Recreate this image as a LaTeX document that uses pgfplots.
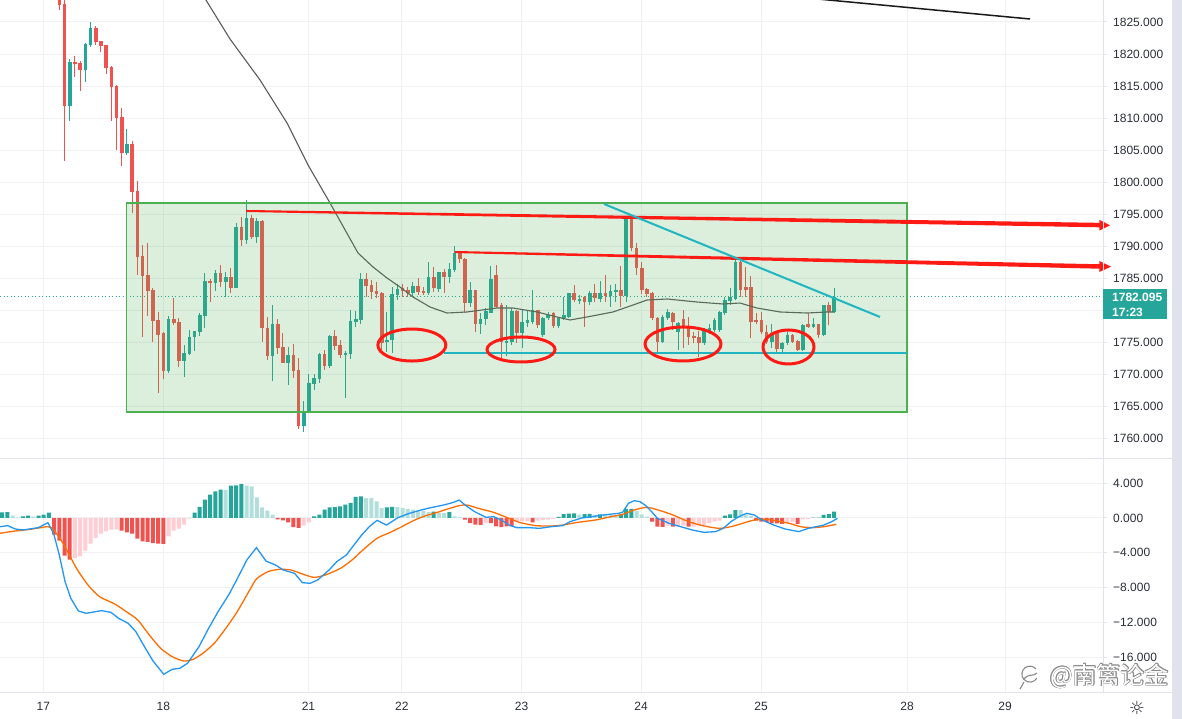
\documentclass[border=0pt]{standalone}
\usepackage{pgfplots}
\pgfplotsset{compat=1.18}
\usepackage{pgfplotstable}
\usepackage{fontspec}
\setmainfont{Liberation Sans}
\newfontfamily\cjk{Noto Sans CJK SC}
\newfontfamily\djv{DejaVu Sans}
\definecolor{upc}{HTML}{26A69A}
\definecolor{dnc}{HTML}{EF5350}
\definecolor{hlg}{HTML}{B2DFDB}
\definecolor{hpk}{HTML}{FFCDD2}
\definecolor{macdc}{HTML}{2196F3}
\definecolor{sigc}{HTML}{FF6D00}
\definecolor{gridc}{HTML}{EFF1F5}
\definecolor{linec}{HTML}{E0E3EB}
\definecolor{txtc}{HTML}{2A2E39}
\definecolor{boxg}{HTML}{4CAF50}
\definecolor{anred}{HTML}{FF1A14}
\definecolor{ancyan}{HTML}{1FB5C1}
\definecolor{mac}{HTML}{5A5A5A}
\definecolor{wmc}{HTML}{8A8A8A}

\pgfplotstableread{
i o h l c
1 1830.5 1831.0 1826.9 1827.7
2 1827.8 1830.0 1803.3 1811.8
3 1811.8 1819.2 1809.6 1818.7
4 1818.75 1819.7 1816.45 1818.5
5 1818.6 1818.9 1814.3 1817.55
6 1817.55 1821.8 1815.7 1821.55
7 1821.45 1825.0 1821.15 1824.05
8 1824.05 1824.4 1821.45 1821.9
9 1822.0 1822.05 1820.35 1821.25
10 1821.4 1821.45 1816.9 1817.8
11 1817.95 1818.1 1809.6 1814.85
12 1815.05 1815.15 1805.0 1810.0
13 1810.15 1811.55 1802.55 1804.6
14 1804.6 1808.3 1804.2 1805.95
15 1805.95 1806.45 1795.1 1798.5
16 1798.6 1800.15 1785.5 1788.35
17 1788.45 1790.15 1775.85 1785.35
18 1785.45 1790.45 1779.1 1783.0
19 1783.1 1783.45 1774.95 1778.35
20 1778.45 1779.65 1767.1 1776.15
21 1776.35 1776.5 1769.3 1770.5
22 1770.5 1779.1 1770.2 1778.6
23 1778.6 1781.9 1777.65 1778.0
24 1778.1 1778.8 1771.1 1772.1
25 1772.1 1774.5 1769.6 1773.3
26 1773.15 1776.9 1772.95 1775.75
27 1775.75 1776.8 1773.65 1776.65
28 1776.6 1779.6 1776.0 1779.2
29 1779.1 1785.75 1777.15 1784.55
30 1784.6 1784.9 1781.3 1784.25
31 1784.25 1786.25 1783.0 1785.75
32 1785.75 1787.05 1783.65 1784.4
33 1784.4 1785.9 1782.0 1785.1
34 1785.1 1786.5 1782.6 1783.5
35 1783.5 1793.55 1783.45 1793.0
36 1793.0 1794.6 1790.05 1791.0
37 1791.0 1797.2 1790.25 1794.4
38 1794.4 1794.85 1791.05 1791.45
39 1791.45 1794.35 1790.4 1793.9
40 1793.9 1794.15 1775.05 1777.15
41 1777.25 1778.9 1772.2 1772.85
42 1772.85 1780.8 1768.95 1777.8
43 1777.8 1778.6 1773.2 1774.1
44 1774.25 1776.35 1771.75 1771.8
45 1771.8 1774.2 1768.3 1772.95
46 1772.95 1774.65 1769.4 1770.5
47 1770.6 1772.45 1761.4 1761.9
48 1761.9 1765.8 1760.9 1764.2
49 1764.1 1769.95 1764.05 1768.55
50 1768.45 1769.95 1767.5 1769.35
51 1769.2 1773.25 1768.55 1773.1
52 1773.1 1773.75 1770.6 1771.25
53 1771.25 1776.1 1771.0 1776.0
54 1776.0 1776.9 1773.75 1774.4
55 1774.5 1775.3 1772.55 1772.95
56 1772.95 1773.6 1766.3 1773.35
57 1773.15 1780.0 1772.35 1778.3
58 1778.15 1779.85 1777.3 1778.55
59 1778.45 1785.75 1777.75 1784.85
60 1784.85 1785.75 1782.1 1783.8
61 1783.9 1784.7 1781.65 1782.85
62 1783.0 1784.4 1781.8 1782.5
63 1782.7 1782.85 1773.25 1774.8
64 1775.05 1779.7 1773.5 1775.3
65 1775.3 1783.65 1773.35 1782.5
66 1782.35 1784.15 1781.55 1783.25
67 1783.4 1784.15 1782.1 1782.95
68 1783.1 1783.65 1782.1 1782.6
69 1782.7 1784.4 1782.1 1783.75
70 1783.75 1784.95 1782.35 1782.85
71 1783.0 1783.65 1782.35 1782.7
72 1782.7 1787.55 1782.35 1785.2
73 1785.2 1786.75 1782.85 1783.4
74 1783.25 1786.0 1782.85 1785.9
75 1786.0 1786.35 1782.6 1785.2
76 1785.2 1787.3 1784.15 1786.35
77 1786.25 1790.0 1786.0 1788.95
78 1788.95 1789.1 1787.4 1788.0
79 1788.0 1788.1 1779.5 1781.05
80 1781.05 1784.4 1780.5 1783.1
81 1783.1 1783.15 1776.6 1777.75
82 1777.75 1779.5 1776.25 1778.6
83 1778.55 1780.25 1777.65 1779.85
84 1779.6 1786.9 1779.5 1784.85
85 1785.5 1787.0 1780.3 1780.5
86 1780.8 1781.1 1772.5 1775.0
87 1774.8 1780.8 1772.9 1775.1
88 1775.0 1780.3 1774.5 1779.8
89 1779.85 1780.0 1774.8 1776.35
90 1776.35 1780.0 1774.1 1778.15
91 1777.9 1780.0 1777.4 1778.45
92 1778.1 1783.1 1777.75 1780.0
93 1780.0 1780.05 1777.15 1777.65
94 1776.1 1778.95 1775.8 1778.7
95 1778.7 1779.65 1778.45 1779.2
96 1779.5 1779.75 1777.25 1777.55
97 1777.55 1778.95 1777.15 1778.8
98 1778.8 1782.1 1778.45 1779.2
99 1778.95 1782.6 1778.7 1782.6
100 1782.6 1783.9 1781.3 1781.55
101 1781.4 1782.35 1781.0 1781.8
102 1782.1 1782.25 1777.4 1781.3
103 1781.3 1783.0 1780.85 1782.6
104 1782.6 1784.15 1781.3 1781.8
105 1781.8 1784.55 1781.3 1782.7
106 1782.7 1785.45 1781.3 1782.25
107 1782.25 1783.9 1780.5 1782.95
108 1782.75 1784.15 1781.3 1783.1
109 1783.1 1786.9 1780.5 1782.25
110 1782.25 1794.4 1781.3 1794.3
111 1794.3 1794.7 1789.2 1789.65
112 1789.75 1790.4 1785.45 1786.5
113 1786.5 1787.55 1782.45 1783.1
114 1783.3 1783.4 1782.1 1782.45
115 1782.6 1782.75 1778.45 1778.7
116 1778.7 1778.95 1773.5 1775.05
117 1775.05 1779.2 1774.8 1778.95
118 1778.8 1780.15 1778.45 1779.75
119 1779.5 1779.75 1776.9 1778.15
120 1776.65 1778.15 1773.7 1778.05
121 1778.6 1780.0 1774.0 1777.15
122 1777.55 1778.95 1774.55 1775.85
123 1776.0 1776.5 1774.8 1775.65
124 1775.75 1776.7 1772.7 1774.8
125 1774.8 1777.15 1774.55 1776.7
126 1776.5 1777.9 1776.2 1777.15
127 1776.9 1778.7 1776.5 1778.45
128 1776.9 1779.85 1776.6 1779.75
129 1779.5 1782.1 1779.2 1781.55
130 1781.4 1783.4 1780.8 1782.1
131 1781.8 1787.8 1781.55 1787.55
132 1787.55 1787.8 1782.1 1783.1
133 1783.65 1786.75 1782.1 1783.1
134 1783.65 1785.35 1775.6 1778.15
135 1778.45 1779.5 1777.9 1778.15
136 1778.45 1779.75 1776.2 1776.5
137 1776.6 1777.65 1774.65 1775.05
138 1775.05 1777.75 1774.0 1776.35
139 1776.35 1776.6 1773.5 1773.9
140 1773.9 1775.05 1773.5 1774.8
141 1774.8 1776.6 1774.55 1776.1
142 1776.1 1776.2 1774.8 1775.05
143 1775.15 1775.3 1773.6 1773.75
144 1773.75 1777.75 1773.6 1777.65
145 1777.75 1779.5 1777.15 1777.4
146 1777.4 1778.7 1777.15 1777.75
147 1777.75 1777.9 1775.65 1776.1
148 1776.1 1780.85 1776.0 1780.8
149 1780.8 1781.2 1777.65 1779.75
150 1779.75 1783.5 1779.5 1782.1
}\candles

\pgfplotstableread{
i v k
-10 0.65 1
-9 0.69 1
-8 0.27 2
-7 0.08 2
-6 0.19 1
-5 0.27 1
-4 0.15 2
-3 0.27 1
-2 0.38 1
-1 0.61 1
0 -1.9 3
1 -2.6 3
2 -4.33 3
3 -4.79 3
4 -4.6 4
5 -4.41 4
6 -3.76 4
7 -2.95 4
8 -2.30 4
9 -1.80 4
10 -1.53 4
11 -1.34 4
12 -1.30 4
13 -1.46 3
14 -1.65 3
15 -1.80 3
16 -2.38 3
17 -2.69 3
18 -2.76 3
19 -2.88 3
20 -2.95 3
21 -2.97 3
22 -2.11 4
23 -1.46 4
24 -1.23 4
25 -0.77 4
26 -0.08 4
27 0.61 1
28 1.27 1
29 2.11 1
30 2.69 1
31 3.07 1
32 3.26 1
33 3.24 2
34 3.72 1
35 3.74 1
36 3.91 1
37 3.72 2
38 3.64 2
39 2.38 2
40 1.23 2
41 0.84 2
42 0.38 2
43 -0.15 3
44 -0.27 3
45 -0.50 3
46 -1.04 3
47 -1.15 3
48 -0.88 4
49 -0.50 4
50 0.19 1
51 0.38 1
52 0.96 1
53 1.23 1
54 1.25 1
55 1.34 1
56 1.53 1
57 1.73 1
58 2.42 1
59 2.49 1
60 2.30 2
61 2.28 2
62 1.92 2
63 1.15 2
64 1.23 1
65 1.27 1
66 1.25 2
67 1.15 2
68 1.04 2
69 0.96 2
70 0.88 2
71 0.84 2
72 0.69 2
73 0.72 1
74 0.58 2
75 0.56 2
76 0.69 1
77 0.19 2
78 0.08 2
79 -0.19 3
80 -0.58 3
81 -0.77 3
82 -0.79 3
83 -0.58 4
84 -0.60 3
85 -0.96 3
86 -1.04 3
87 -0.96 3
88 -0.96 3
89 -0.38 4
90 -0.38 4
91 -0.36 4
92 -0.50 3
93 -0.31 4
94 -0.23 4
95 -0.19 4
96 -0.12 4
97 0.12 1
98 0.46 1
99 0.50 1
100 0.52 1
101 0.38 2
102 0.46 1
103 0.48 1
104 0.35 2
105 0.42 1
106 0.35 2
107 0.34 2
108 0.33 2
109 0.42 1
110 1.04 1
111 1.06 1
112 0.84 2
113 0.42 2
114 0.15 2
115 -0.42 3
116 -1.0 3
117 -1.02 3
118 -0.88 4
119 -1.0 3
120 -0.98 4
121 -0.88 4
122 -1.0 3
123 -0.98 4
124 -0.88 4
125 -0.81 4
126 -0.61 4
127 -0.42 4
128 -0.31 4
129 0.27 1
130 0.42 1
131 0.92 1
132 0.90 2
133 0.42 2
134 0.23 2
135 -0.31 3
136 -0.42 3
137 -0.44 3
138 -0.61 3
139 -0.63 3
140 -0.69 3
141 -0.61 4
142 -0.42 4
143 -0.69 3
144 -0.15 4
145 -0.12 4
146 0.04 1
147 0.05 1
148 0.35 1
149 0.46 1
150 0.73 1
}\hist

\pgfplotsset{
  mystyle/.style={
    scale only axis, width=1103bp, anchor=south west,
    xmin=-10.404, xmax=201.71,
    axis line style={draw=none},
    xtick={-2.08,21.0,48.92,66.87,89.9,112.87,135.94,164.02,182.87},
    xtick style={draw=none},
    ytick pos=right, yticklabel pos=right,
    ytick style={draw=linec, line width=1bp},
    tick align=outside, major tick length=4bp,
    grid=major, major grid style={draw=gridc, line width=1bp},
    ticklabel style={font=\fontsize{12bp}{14bp}\selectfont, text=txtc},
    yticklabel style={anchor=west, inner sep=0pt, xshift=6bp},
  }
}

\newcommand\wmtext{\cjk\fontsize{24bp}{28bp}\selectfont @南篱论金}

\begin{document}
\begin{tikzpicture}
\useasboundingbox (0bp,0bp) rectangle (1182bp,719bp);
\fill[white] (0bp,0bp) rectangle (1182bp,719bp);

% ---------------- price panel ----------------
\begin{axis}[mystyle, at={(0bp,260bp)}, height=459bp,
  ymin=1756.72, ymax=1828.44,
  ytick={1760,1765,1770,1775,1780,1785,1790,1795,1800,1805,1810,1815,1820,1825},
  yticklabels={1760.000,1765.000,1770.000,1775.000,{},1785.000,1790.000,1795.000,1800.000,1805.000,1810.000,1815.000,1820.000,1825.000},
  xticklabels={}]
\addplot[upc, line width=1bp, dash pattern=on 1bp off 2.5bp] coordinates {(-10.404,1782.1) (201.71,1782.1)};
% wicks
\addplot[draw=none, mark=none, restrict expr to domain={\thisrow{c}-\thisrow{o}}{0:1000},
  error bars/.cd, y dir=both, y explicit, error mark=none, error bar style={draw=upc, line width=1bp}]
  table[x=i, y expr={(\thisrow{h}+\thisrow{l})/2}, y error expr={(\thisrow{h}-\thisrow{l})/2}] {\candles};
\addplot[draw=none, mark=none, restrict expr to domain={\thisrow{c}-\thisrow{o}}{-1000:-0.00001},
  error bars/.cd, y dir=both, y explicit, error mark=none, error bar style={draw=dnc, line width=1bp}]
  table[x=i, y expr={(\thisrow{h}+\thisrow{l})/2}, y error expr={(\thisrow{h}-\thisrow{l})/2}] {\candles};
% bodies
\addplot[draw=none, mark=none, restrict expr to domain={\thisrow{c}-\thisrow{o}}{0:1000},
  error bars/.cd, y dir=both, y explicit, error mark=none, error bar style={draw=upc, line width=3.6bp}]
  table[x=i, y expr={(\thisrow{o}+\thisrow{c})/2}, y error expr={max(abs(\thisrow{c}-\thisrow{o})/2,0.08)}] {\candles};
\addplot[draw=none, mark=none, restrict expr to domain={\thisrow{c}-\thisrow{o}}{-1000:-0.00001},
  error bars/.cd, y dir=both, y explicit, error mark=none, error bar style={draw=dnc, line width=3.6bp}]
  table[x=i, y expr={(\thisrow{o}+\thisrow{c})/2}, y error expr={max(abs(\thisrow{c}-\thisrow{o})/2,0.08)}] {\candles};
% moving average
\addplot[mac, line width=1.1bp] coordinates {
(28.06,1830.0) (29.2,1828.44) (33.83,1822.34) (39.6,1815.94) (44.79,1809.22) (48.83,1802.66)
(53.06,1796.72) (58.44,1788.91) (61.33,1786.72) (64.02,1785.0) (66.52,1783.59) (69.02,1782.03)
(72.29,1780.47) (75.56,1779.53) (79.40,1779.69) (85.17,1780.31) (88.25,1780.31) (92.87,1779.69)
(96.71,1778.91) (99.21,1778.44) (102.48,1778.91) (107.48,1779.69) (111.33,1780.78) (114.02,1781.56)
(117.87,1781.72) (123.63,1781.25) (128.63,1780.94) (131.9,1781.09) (135.17,1780.31) (139.6,1779.69)
(144.79,1779.53) (148.63,1779.69) (149.98,1779.69)};
% black trend line at top right
\addplot[black!90, line width=1.5bp] coordinates {(144.8,1828.75) (187.67,1825.47)};
\end{axis}

% ---------------- annotations ----------------
\begin{axis}[scale only axis, width=1103bp, height=459bp, anchor=south west, at={(0bp,260bp)},
  xmin=-10.404, xmax=201.71, ymin=1756.72, ymax=1828.44, hide axis, clip=false]
\addplot[fill=boxg, fill opacity=0.2, draw=boxg, line width=1.2bp] coordinates
  {(13.85,1764.06) (164.02,1764.06) (164.02,1796.72) (13.85,1796.72) (13.85,1764.06)};
% red arrow 1
\addplot[fill=anred, draw=none] coordinates
  {(36.94,1795.63) (201.1,1793.62) (201.1,1792.92) (36.94,1795.31)};
\addplot[fill=anred, draw=none] coordinates
  {(201.0,1794.09) (203.06,1793.23) (201.0,1792.41)};
% red arrow 2
\addplot[fill=anred, draw=none] coordinates
  {(77.1,1789.22) (201.1,1787.15) (201.1,1786.45) (77.1,1788.90)};
\addplot[fill=anred, draw=none] coordinates
  {(201.0,1787.66) (203.25,1786.77) (201.0,1785.94)};
% cyan lines
\addplot[ancyan, line width=2bp] coordinates {(105.76,1796.56) (158.83,1778.91)};
\addplot[ancyan, line width=2.5bp] coordinates {(74.98,1773.28) (164.02,1773.28)};
% ellipses
\draw[anred, line width=3bp] (axis cs:68.8,1774.53) ellipse [x radius=34bp, y radius=16bp];
\draw[anred, line width=3bp] (axis cs:89.79,1773.83) ellipse [x radius=34bp, y radius=12.5bp];
\draw[anred, line width=3bp] (axis cs:120.94,1774.69) ellipse [x radius=38bp, y radius=17bp];
\draw[anred, line width=3bp] (axis cs:141.23,1774.22) ellipse [x radius=25.5bp, y radius=17bp];
\end{axis}

% ---------------- MACD panel ----------------
\begin{axis}[mystyle, at={(0bp,26bp)}, height=234bp,
  ymin=-20.14, ymax=6.79,
  ytick={-16,-12,-8,-4,0,4},
  yticklabels={−16.000,−12.000,−8.000,−4.000,0.000,4.000},
  xticklabels={17,18,21,22,23,24,25,28,29},
  xticklabel style={anchor=base, inner sep=0pt, yshift=-13.5bp}]
\addplot[ybar, bar width=4bp, bar shift=0pt, fill=upc, draw=none, restrict expr to domain={\thisrow{k}}{0.5:1.5}] table[x=i,y=v] {\hist};
\addplot[ybar, bar width=4bp, bar shift=0pt, fill=hlg, draw=none, restrict expr to domain={\thisrow{k}}{1.5:2.5}] table[x=i,y=v] {\hist};
\addplot[ybar, bar width=4bp, bar shift=0pt, fill=dnc, draw=none, restrict expr to domain={\thisrow{k}}{2.5:3.5}] table[x=i,y=v] {\hist};
\addplot[ybar, bar width=4bp, bar shift=0pt, fill=hpk, draw=none, restrict expr to domain={\thisrow{k}}{3.5:4.5}] table[x=i,y=v] {\hist};
\addplot[sigc, line width=1.3bp, smooth, tension=0.4] coordinates {
(-10.40,-1.76) (-7.46,-1.50) (-4.52,-1.30) (-1.2,-1.00) (-0.10,-1.38) (1.74,-2.92) (4.31,-5.79)
(6.52,-7.71) (8.73,-9.05) (11.67,-9.90) (13.88,-10.78) (16.09,-11.74) (18.30,-13.46) (20.50,-15.0)
(22.71,-15.96) (24.92,-16.46) (26.76,-16.26) (28.60,-15.57) (30.81,-14.42) (33.02,-12.70) (35.22,-10.78)
(37.43,-8.48) (38.91,-7.02) (41.11,-6.18) (43.32,-5.91) (45.53,-5.98) (47.74,-6.44) (49.94,-6.83)
(52.15,-6.56) (55.09,-5.79) (57.30,-4.83) (59.51,-3.61) (62.09,-2.34) (64.66,-1.65) (66.87,-1.00)
(69.08,-0.31) (71.29,0.23) (73.49,0.61) (75.70,1.04) (77.91,1.42) (79.38,1.50) (81.59,1.11)
(84.53,0.65) (87.48,-0.04) (89.69,-0.54) (92.63,-0.88) (95.57,-0.92) (97.78,-0.81) (100.72,-0.50)
(104.11,-0.23) (107.09,0.15) (109.32,0.42) (111.55,0.92) (113.42,1.19) (114.53,1.19) (116.77,0.81)
(119.0,0.35) (121.23,-0.23) (123.47,-0.69) (125.7,-1.0) (127.94,-1.19) (130.17,-1.0) (132.4,-0.61)
(134.64,-0.23) (136.87,-0.15) (139.1,-0.35) (141.34,-0.61) (143.57,-1.0) (145.81,-1.11) (148.04,-1.0)
(150.42,-0.73)};
\addplot[macdc, line width=1.3bp] coordinates {
(-10.40,-1.00) (-8.93,-0.88) (-7.46,-1.27) (-5.99,-1.38) (-3.04,-1.11) (-1.2,-0.54) (-0.10,-1.76)
(1.0,-4.26) (2.11,-7.33) (3.21,-9.24) (4.68,-10.70) (6.15,-10.97) (9.10,-10.66) (10.94,-10.86)
(12.41,-11.55) (14.25,-12.12) (15.72,-13.08) (17.56,-15.0) (19.03,-16.46) (21.09,-17.99) (22.71,-17.41)
(24.18,-17.30) (25.66,-16.72) (27.86,-14.81) (29.71,-12.70) (31.54,-10.78) (33.75,-8.67) (35.59,-6.56)
(37.07,-4.83) (38.91,-3.41) (40.74,-4.95) (42.58,-5.41) (44.06,-5.98) (46.26,-6.37) (47.74,-7.44)
(49.21,-7.52) (50.68,-7.13) (52.89,-5.98) (54.36,-5.02) (56.20,-4.26) (57.67,-3.11) (59.14,-1.96)
(60.61,-1.00) (62.09,-0.27) (63.93,-0.81) (66.13,0.04) (68.34,0.54) (70.55,0.92) (72.76,1.23)
(74.97,1.50) (76.80,1.80) (77.91,2.07) (79.01,1.50) (80.85,0.73) (83.06,0.08) (84.53,0.15)
(86.0,-0.23) (87.48,-0.81) (88.95,-1.11) (91.16,-1.11) (93.36,-1.19) (95.57,-1.00) (97.78,-0.88)
(99.25,-0.42) (101.46,0.0) (103.36,0.15) (105.6,0.35) (108.57,0.54) (109.32,0.65) (110.44,1.69)
(111.55,1.99) (112.67,1.88) (113.79,1.42) (114.91,0.73) (116.02,-0.04) (118.26,-0.61) (120.49,-1.0)
(122.72,-1.38) (124.96,-1.65) (127.19,-1.57) (128.68,-1.19) (130.17,-0.42) (131.66,0.15) (133.15,0.54)
(134.64,0.35) (136.13,-0.23) (138.36,-0.81) (140.6,-1.27) (143.2,-1.57) (145.06,-1.19) (146.55,-1.0)
(148.04,-0.81) (149.53,-0.42) (150.65,-0.04)};
\end{axis}

% ---------------- frame ----------------
\fill[linec] (1172bp,0bp) rectangle (1182bp,719bp);
\draw[linec, line width=1bp] (1103bp,26bp) -- (1103bp,719bp);
\draw[linec, line width=1bp] (0bp,260bp) -- (1172bp,260bp);
\draw[linec, line width=1bp] (0bp,26bp) -- (1172bp,26bp);
% last price label
\fill[upc] (1103bp,400bp) rectangle (1167bp,430bp);
\node[anchor=west, inner sep=0pt, text=white, font=\fontsize{12bp}{14bp}\selectfont\bfseries] at (1112bp,422bp) {1782.095};
\node[anchor=west, inner sep=0pt, text=white, font=\fontsize{12bp}{14bp}\selectfont\bfseries] at (1112bp,407bp) {17:23};
% watermark (outlined) and logo
\foreach \dx/\dy in {-0.6/0,0.6/0,0/-0.6,0/0.6,-0.45/-0.45,0.45/0.45,-0.45/0.45,0.45/-0.45}{
  \node[anchor=east, inner sep=0pt, text=wmc] at ({1169bp+\dx bp},{43bp+\dy bp}) {\wmtext};
}
\node[anchor=east, inner sep=0pt, text=white] at (1169bp,43bp) {\wmtext};
\draw[wmc, line width=1.1bp] (1036bp,50bp) arc[start angle=40, end angle=330, radius=8bp];
\draw[wmc, line width=1.1bp] (1024bp,40bp) .. controls (1029bp,46bp) and (1033bp,42bp) .. (1037bp,46bp);
\draw[wmc, line width=1.1bp] (1024bp,37bp) -- (1020bp,30bp);
\node[inner sep=0pt, text=txtc, font=\djv\fontsize{18bp}{20bp}\selectfont] at (1137bp,11bp) {☼};
\end{tikzpicture}
\end{document}
